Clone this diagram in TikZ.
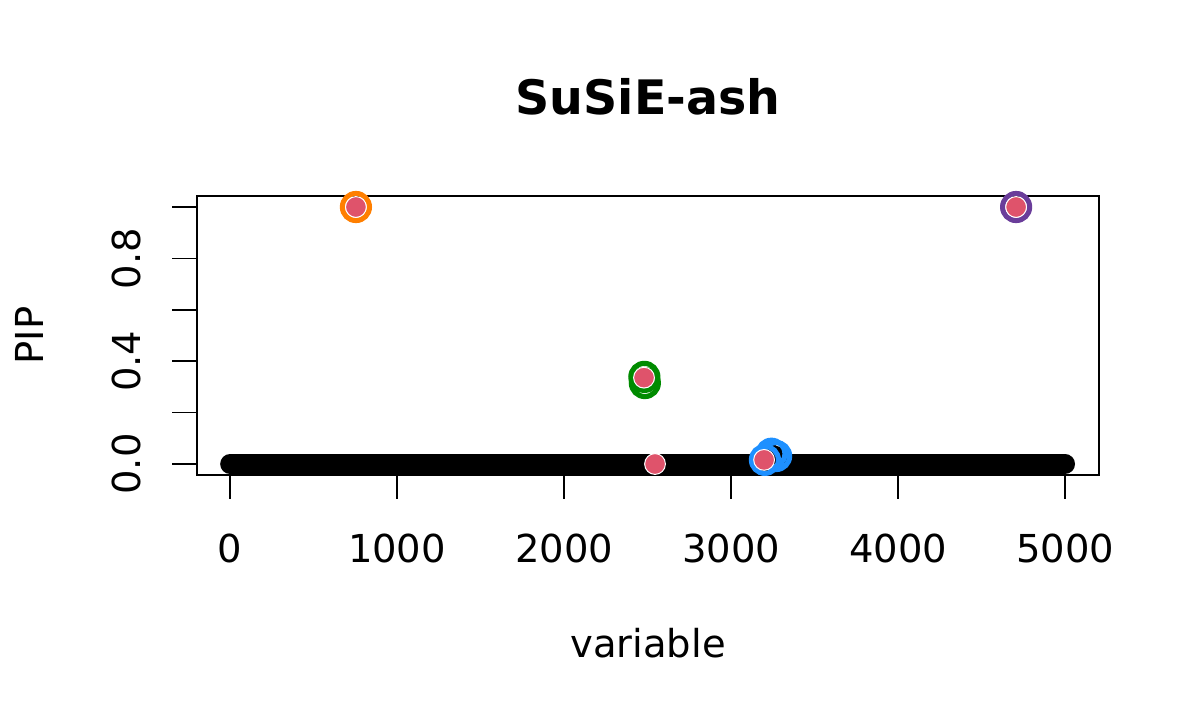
\documentclass[tikz,border=0pt]{standalone}
\usepackage{fontspec}
\setmainfont{DejaVu Sans}
\usepackage{xcolor}
\usepackage{tikz}

\definecolor{csorange}{HTML}{FF7F00}
\definecolor{cspurple}{HTML}{6A3D9A}
\definecolor{csgreen}{HTML}{008B00}
\definecolor{csblue}{HTML}{1E90FF}
\definecolor{truered}{HTML}{DF536B}

\begin{document}
\begin{tikzpicture}[x=1pt, y=-1pt,
  lab/.style={inner sep=0pt, anchor=base, font=\fontsize{38.5}{46}\selectfont},
  var/.style={circle, inner sep=0pt, minimum size=20pt, fill=black},
  ring/.style={circle, inner sep=0pt, minimum size=27pt, line width=5.2pt},
  truth/.style={circle, inner sep=0pt, minimum size=20.8pt, fill=truered, draw=white, line width=1pt}]

\useasboundingbox (0,0) rectangle (1200,720);

% titles
\node (title) at (648,114.5) [inner sep=0pt, anchor=base, font=\fontsize{47.5}{57}\selectfont\bfseries] {SuSiE-ash};
\node (xlab) at (648,657) [lab] {variable};
\node (ylab) at (43,335.5) [lab, rotate=90] {PIP};

% frame and axes
\draw[line width=1.7pt] (197,196) rectangle (1099,475);
\foreach \v in {0,1000,...,5000} {
  \draw[line width=1.7pt] ({230+0.167*\v},475) -- ++(0,24);
  \node (xt\v) at ({230+0.167*\v},562) [lab] {\v};
}
\foreach \p in {0,1,...,5}
  \draw[line width=1.7pt] (197,{464-51.4*\p}) -- ++(-25,0);
\foreach \p/\t in {0/0.0, 2/0.4, 4/0.8}
  \node (yt\p) at (140,{464-51.4*\p}) [lab, rotate=90] {\t};

% data: variable vs PIP
\begin{scope}[shift={(230,464)}, x=0.167pt, y=257pt]
\draw[line width=20pt, line cap=round] (1,0) -- (5000,0);

\node (v1) at (754,1) [var] {};
\node (v2) at (4707,1) [var] {};
\node (v3) at (2482,0.331) [var] {};
\node (v4) at (3215,0.018) [var] {};
\node (v5) at (3240,0.039) [var] {};
\node (v6) at (3269,0.031) [var] {};

\node (cs1) at (754,1) [ring, draw=csorange] {};
\node (cs2) at (4707,1) [ring, draw=cspurple] {};
\node (cs3a) at (2481,0.339) [ring, draw=csgreen] {};
\node (cs3b) at (2484,0.315) [ring, draw=csgreen] {};
\node (cs4a) at (3203,0.016) [ring, draw=csblue] {};
\node (cs4b) at (3242,0.040) [ring, draw=csblue] {};
\node (cs4c) at (3270,0.031) [ring, draw=csblue] {};

\node (t1) at (754,1) [truth] {};
\node (t2) at (4707,1) [truth] {};
\node (t3) at (2479,0.336) [truth] {};
\node (t4) at (2545,0) [truth] {};
\node (t5) at (3198,0.016) [truth] {};
\end{scope}

\end{tikzpicture}
\end{document}
